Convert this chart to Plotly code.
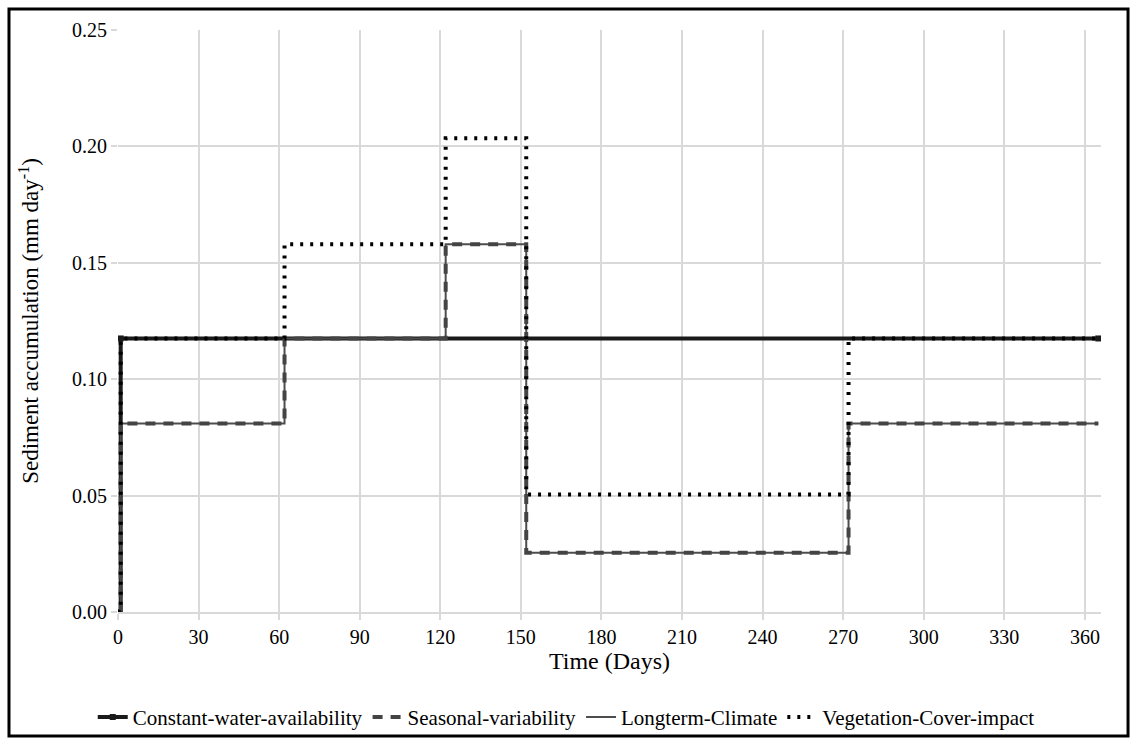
import plotly.graph_objects as go

# Step-change points (day at which each new value begins)
days = [0, 1, 62, 122, 152, 272, 365]

constant_days = [0, 1, 365]
constant_vals = [0.0, 0.1175, 0.1175]

seasonal_vals = [0.0, 0.081, 0.1175, 0.158, 0.0255, 0.081, 0.081]
longterm_vals = [0.0, 0.081, 0.1175, 0.158, 0.0255, 0.081, 0.081]
vegetation_vals = [0.0, 0.1175, 0.158, 0.2035, 0.0505, 0.1175, 0.1175]

x_ticks = [0, 30, 60, 90, 120, 150, 180, 210, 240, 270, 300, 330, 360]
y_ticks = [0.00, 0.05, 0.10, 0.15, 0.20, 0.25]

FONT = "Liberation Serif, Times New Roman, serif"

fig = go.Figure()
fig.add_trace(go.Scatter(
    x=constant_days, y=constant_vals, name="Constant-water-availability",
    mode="lines+markers", line=dict(color="#1a1a1a", width=4, shape="hv"),
    marker=dict(symbol="square", size=6, color="#1a1a1a")))
fig.add_trace(go.Scatter(
    x=days, y=longterm_vals, name="Longterm-Climate",
    mode="lines", line=dict(color="#4d4d4d", width=2, shape="hv"), showlegend=False,
    legendgroup="lt"))
fig.add_trace(go.Scatter(
    x=days, y=seasonal_vals, name="Seasonal-variability",
    mode="lines", line=dict(color="#444444", width=4, shape="hv", dash="10px,8px")))
fig.add_trace(go.Scatter(
    x=[None], y=[None], name="Longterm-Climate", legendgroup="lt",
    mode="lines", line=dict(color="#4d4d4d", width=2)))
fig.add_trace(go.Scatter(
    x=days, y=vegetation_vals, name="Vegetation-Cover-impact",
    mode="lines", line=dict(color="#000000", width=4, shape="hv", dash="3px,7px")))

fig.update_layout(
    width=1133, height=742,
    margin=dict(l=118, r=32, t=30, b=130, autoexpand=False),
    paper_bgcolor="white", plot_bgcolor="white",
    font=dict(family=FONT, size=21, color="#000000"),
    showlegend=True,
    legend=dict(orientation="h", x=0.456, xanchor="center",
                y=-0.146, yanchor="top", font=dict(size=21, family=FONT),
                bgcolor="rgba(0,0,0,0)",
                itemwidth=30, tracegroupgap=0, traceorder="normal"),
    shapes=[dict(type="rect", xref="paper", yref="paper",
                 x0=-0.1109, x1=1.0275, y0=-0.2131, y1=1.0361,
                 line=dict(color="#000000", width=3), layer="below")],
)
fig.update_xaxes(
    range=[0, 366], tickvals=x_ticks, ticktext=[str(v) for v in x_ticks],
    tickangle=0, automargin=False,
    showgrid=True, gridcolor="#d9d9d9", gridwidth=1.5,
    showline=True, linecolor="#d9d9d9", linewidth=1.5,
    ticks="outside", tickcolor="#d9d9d9", ticklen=6, tickwidth=1.5,
    zeroline=False, tickfont=dict(size=20, family=FONT),
    title=dict(text="Time (Days)", font=dict(size=24, family=FONT), standoff=5))
fig.update_yaxes(
    range=[0, 0.25], tickvals=y_ticks, ticktext=[f"{v:.2f}" for v in y_ticks],
    automargin=False,
    showgrid=True, gridcolor="#d9d9d9", gridwidth=1.5,
    showline=False, ticks="outside", tickcolor="#d9d9d9", ticklen=6, tickwidth=1.5,
    zeroline=False, tickfont=dict(size=20, family=FONT),
    title=dict(text="Sediment accumulation (mm day<sup>-1</sup>)",
               font=dict(size=23, family=FONT), standoff=26))

fig.write_html("out.html")
